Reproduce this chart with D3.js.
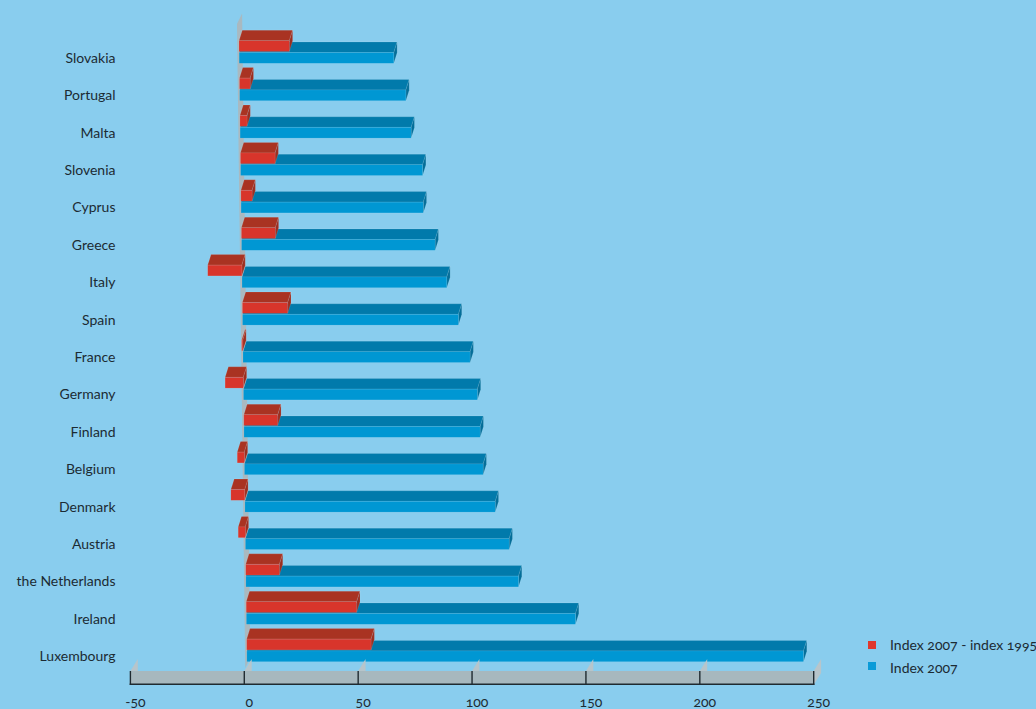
<!DOCTYPE html>
<html>
<head>
<meta charset="utf-8">
<script src="https://cdn.jsdelivr.net/npm/d3@7"></script>
<style>
  html, body { margin: 0; padding: 0; background: #89cdee; }
  svg { display: block; }
  text { font-family: Lato, "Open Sans", sans-serif; fill: #1c2b33; font-feature-settings: "onum" 1; font-variant-numeric: oldstyle-nums; }
</style>
</head>
<body>
<svg id="chart" width="1036" height="709"></svg>
<script>
// Categories, top to bottom
const countries = ["Slovakia", "Portugal", "Malta", "Slovenia", "Cyprus", "Greece", "Italy", "Spain",
  "France", "Germany", "Finland", "Belgium", "Denmark", "Austria", "the Netherlands", "Ireland", "Luxembourg"];
// Index 2007
const index2007 = [67.9, 73.0, 75.1, 79.9, 80.0, 85.0, 89.9, 94.8, 99.7, 102.7, 103.7, 104.8, 109.9, 115.8, 119.7, 144.5, 244.4];
// Index 2007 - index 1995
const change = [22.1, 4.7, 3.1, 15.2, 4.9, 14.9, -15.0, 19.9, -0.5, -8.0, 14.9, -3.1, -6.1, -3.1, 14.8, 48.5, 54.6];
// Axis ticks and legend entries
const xTicks = [-50, 0, 50, 100, 150, 200, 250];
const seriesNames = ["Index 2007 - index 1995", "Index 2007"];

const svg = d3.select("#chart");

// Colours for the three visible faces of each box
const palette = {
  red:  { front: "#d8352b", top: "#a93322", side: "#9c2e20", legend: "#e0382d" },
  blue: { front: "#0097d3", top: "#017aab", side: "#046e99", legend: "#0a9bd8" }
};

// Oblique depth of the boxes
const depth = { dx: 3.3, dy: -10.5 };
const barH = 10.8;

// Row position (front top edge of the red box in each row)
const y = d3.scalePoint().domain(countries).range([40.7, 639.1]);
// Zero plane seen in perspective drifts slightly to the right going down
const zeroX = d3.scaleLinear().domain([40.7, 639.1]).range([239, 246.7]);
// Value -> horizontal length in pixels
const len = d3.scaleLinear().domain([0, 250]).range([0, 569.4]);
// Axis scale along the front edge of the floor
const xAxis = d3.scaleLinear().domain([-50, 250]).range([130.4, 813.7]);

const poly = pts => pts.map(p => p.join(",")).join(" ");

// Gray zero wall behind the bars
(function drawWall() {
  const yt = 24, yb = 668;
  const xt = zeroX(yt) - 1.8, xb = zeroX(yb) - 1.8;
  svg.append("polygon")
    .attr("points", poly([[xt, yt], [xt + depth.dx + 1.8, yt + depth.dy], [xb + depth.dx + 1.8, yb + depth.dy], [xb, yb]]))
    .attr("fill", "#a9b9c0");
})();

// Draws one box: front face, top face, right end face
function box(g, x0, x1, yTop, h, col) {
  const l = Math.min(x0, x1), r = Math.max(x0, x1);
  const { dx, dy } = depth;
  g.append("polygon")
    .attr("points", poly([[l, yTop], [l + dx, yTop + dy], [r + dx, yTop + dy], [r, yTop]]))
    .attr("fill", col.top).attr("stroke", "rgba(255,255,255,0.18)").attr("stroke-width", 0.6);
  g.append("polygon")
    .attr("points", poly([[r, yTop], [r + dx, yTop + dy], [r + dx, yTop + h + dy], [r, yTop + h]]))
    .attr("fill", col.side).attr("stroke", "rgba(255,255,255,0.18)").attr("stroke-width", 0.6);
  g.append("rect")
    .attr("x", l).attr("y", yTop).attr("width", Math.max(r - l, 0.01)).attr("height", h)
    .attr("fill", col.front).attr("stroke", "rgba(255,255,255,0.15)").attr("stroke-width", 0.6);
}

const bars = svg.append("g");
countries.forEach((c, i) => {
  const yr = y(c);
  const row = bars.append("g");
  const z0 = zeroX(yr);
  const zb = zeroX(yr + 11.8);
  // blue box sits just below the red one and is drawn first
  box(row, zb, zb + len(index2007[i]), yr + 11.8, barH, palette.blue);
  box(row, z0, z0 + len(change[i]), yr, barH, palette.red);
});

// Category labels
svg.append("g").selectAll("text").data(countries).join("text")
  .attr("x", 115.5).attr("y", d => y(d) + 22)
  .attr("text-anchor", "end").attr("font-size", 14)
  .text(d => d);

// Floor: tick slivers, front band, tick marks, baseline
const axisG = svg.append("g");
const bandTop = 671, bandBot = 685, sl = { dx: 7.4, dy: -12 };
axisG.selectAll("polygon.sliver").data(xTicks).join("polygon")
  .attr("class", "sliver")
  .attr("points", d => {
    const x = xAxis(d);
    return poly([[x, bandTop], [x + sl.dx, bandTop + sl.dy], [x + sl.dx, bandBot + sl.dy], [x, bandBot]]);
  })
  .attr("fill", "#b7c5cb");
axisG.append("rect")
  .attr("x", xAxis(-50)).attr("y", bandTop)
  .attr("width", xAxis(250) - xAxis(-50)).attr("height", bandBot - bandTop)
  .attr("fill", "#a7b8be");
axisG.selectAll("line.tick").data(xTicks).join("line")
  .attr("class", "tick")
  .attr("x1", d => xAxis(d)).attr("x2", d => xAxis(d))
  .attr("y1", bandTop).attr("y2", bandBot)
  .attr("stroke", "#1f2a30").attr("stroke-width", 1.4);
axisG.append("line")
  .attr("x1", xAxis(-50) - 0.7).attr("x2", xAxis(250) + 0.7)
  .attr("y1", bandBot - 0.7).attr("y2", bandBot - 0.7)
  .attr("stroke", "#1f2a30").attr("stroke-width", 1.4);
axisG.selectAll("text").data(xTicks).join("text")
  .attr("x", d => xAxis(d) + 5).attr("y", 706.5)
  .attr("text-anchor", "middle").attr("font-size", 14)
  .text(d => d);

// Legend
const legend = svg.append("g");
const legendCols = [palette.red.legend, palette.blue.legend];
seriesNames.forEach((name, i) => {
  legend.append("rect")
    .attr("x", 868).attr("y", 641 + i * 21).attr("width", 8).attr("height", 8)
    .attr("fill", legendCols[i]);
  legend.append("text")
    .attr("x", 890).attr("y", 649.5 + i * 23.2)
    .attr("font-size", 14)
    .text(name);
});
</script>
</body>
</html>
